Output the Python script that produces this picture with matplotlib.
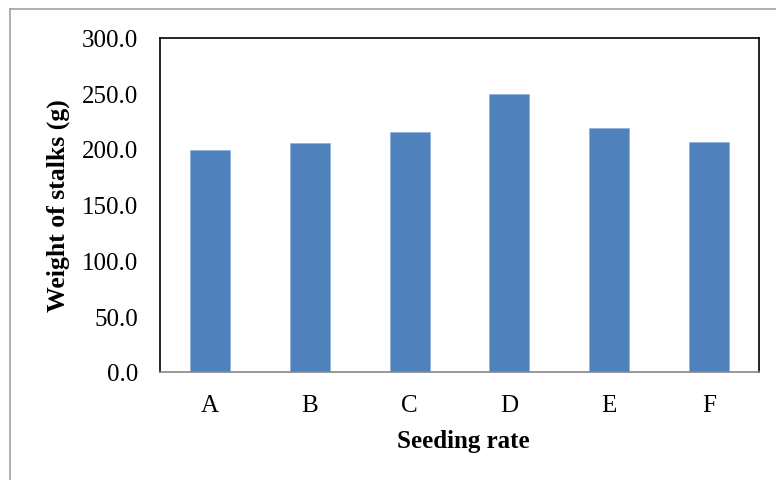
import matplotlib
matplotlib.use("Agg")
import matplotlib.pyplot as plt
from matplotlib.lines import Line2D
from matplotlib.ticker import FormatStrFormatter, MultipleLocator

categories = ["A", "B", "C", "D", "E", "F"]
weights = [199.0, 205.6, 215.5, 249.1, 218.5, 206.5]

plt.rcParams['font.family'] = ['Liberation Serif', 'DejaVu Serif']

W, H = 776, 481
fig = plt.figure(figsize=(W / 100, H / 100), dpi=100)
ax = fig.add_axes([160 / W, (H - 373) / H, 599 / W, (373 - 38.5) / H])

ax.bar(categories, weights, width=0.4, color="#4F81BD", edgecolor="#8EB0DA", linewidth=0.5, zorder=2)

ax.set_ylim(0, 300)
ax.set_xlim(-0.5, len(categories) - 0.5)
ax.yaxis.set_major_locator(MultipleLocator(50))
ax.yaxis.set_major_formatter(FormatStrFormatter("%.1f"))
ax.tick_params(axis="y", length=0, pad=16, labelsize=18)
ax.tick_params(axis="x", length=0, pad=16, labelsize=18)

for s in ["left", "top", "right"]:
    ax.spines[s].set_color("black")
    ax.spines[s].set_linewidth(1.2)
ax.spines["bottom"].set_color("#868686")
ax.spines["bottom"].set_linewidth(1.2)

ax.set_ylabel("Weight of stalks (g)", fontsize=18.5, fontweight="bold")
ax.yaxis.set_label_coords(-0.150, 0.5)
ax.set_xlabel("Seeding rate", fontsize=18, fontweight="bold")
ax.xaxis.set_label_coords(0.507, -0.170)

# outer chart border (only left and top visible in the crop)
x0 = 9.5 / W
y0 = 1 - 10 / H
fig.add_artist(Line2D([x0, x0], [0, y0], transform=fig.transFigure, color="#9a9a9a", lw=1.1))
fig.add_artist(Line2D([x0, 1], [y0, y0], transform=fig.transFigure, color="#9a9a9a", lw=1.1))

fig.savefig("out.png", dpi=100)
